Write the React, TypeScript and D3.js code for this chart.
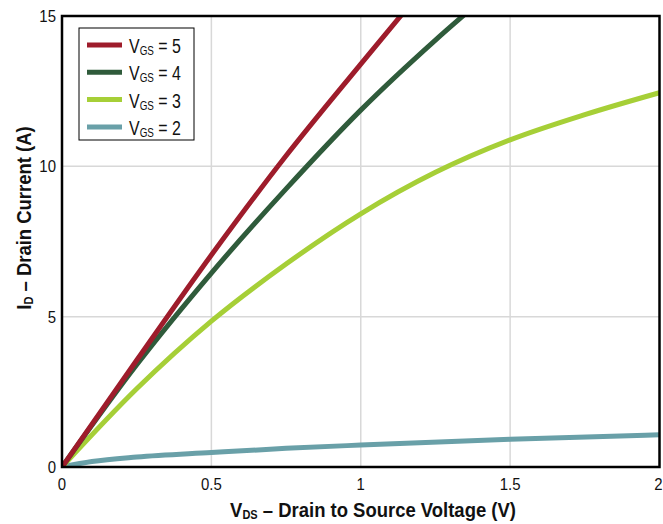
import * as d3 from 'd3';
import type { ReactNode } from 'react';

const gsValues = ['5', '4', '3', '2'];
const colors = ['#9e1c2b', '#2f5b3b', '#a6cf37', '#69a0a8'];

const vgs5 = [
  { v: 0, i: 0 }, { v: 0.25, i: 3.55 }, { v: 0.5, i: 7.05 }, { v: 0.75, i: 10.35 },
  { v: 1.0, i: 13.4 }, { v: 1.2, i: 15.8 },
];
const vgs4 = [
  { v: 0, i: 0 }, { v: 0.25, i: 3.4 }, { v: 0.5, i: 6.45 }, { v: 0.75, i: 9.25 },
  { v: 1.0, i: 11.87 }, { v: 1.25, i: 14.2 }, { v: 1.4, i: 15.5 },
];
const vgs3 = [
  { v: 0, i: 0 }, { v: 0.25, i: 2.6 }, { v: 0.5, i: 4.85 }, { v: 0.75, i: 6.75 },
  { v: 1.0, i: 8.42 }, { v: 1.25, i: 9.8 }, { v: 1.5, i: 10.88 }, { v: 1.75, i: 11.72 },
  { v: 2.0, i: 12.45 },
];
const vgs2 = [
  { v: 0, i: 0 }, { v: 0.1, i: 0.18 }, { v: 0.25, i: 0.33 }, { v: 0.5, i: 0.48 },
  { v: 0.75, i: 0.62 }, { v: 1.0, i: 0.73 }, { v: 1.5, i: 0.92 }, { v: 2.0, i: 1.07 },
];
const curves = [vgs5, vgs4, vgs3, vgs2];

const xTicks = [0, 0.5, 1, 1.5, 2];
const yTicks = [0, 5, 10, 15];

const font = '"Liberation Sans", Arial, sans-serif';

// fake a condensed face by squeezing the text horizontally
function Narrow(props: {
  x: number;
  y: number;
  sx: number;
  rotate?: number;
  anchor?: 'start' | 'middle' | 'end';
  size: number;
  bold?: boolean;
  children: ReactNode;
}) {
  const { x, y, sx, rotate = 0, anchor = 'start', size, bold, children } = props;
  return (
    <g transform={`translate(${x},${y}) rotate(${rotate}) scale(${sx},1)`}>
      <text textAnchor={anchor} fontSize={size} fontWeight={bold ? 'bold' : 'normal'} fill="#111">
        {children}
      </text>
    </g>
  );
}

export default function App() {
  const width = 663;
  const height = 524;
  const plot = { left: 62, right: 659.5, top: 16, bottom: 467 };

  const x = d3.scaleLinear().domain([0, 2]).range([plot.left, plot.right]);
  const y = d3.scaleLinear().domain([0, 15]).range([plot.bottom, plot.top]);

  const line = d3
    .line<{ v: number; i: number }>()
    .x((d) => x(d.v))
    .y((d) => y(d.i))
    .curve(d3.curveMonotoneX);

  return (
    <svg
      width={width}
      height={height}
      style={{ position: 'absolute', left: 0, top: 0, background: '#fff' }}
      fontFamily={font}
    >
      <defs>
        <clipPath id="plot-clip">
          <rect x={plot.left} y={plot.top} width={plot.right - plot.left} height={plot.bottom - plot.top} />
        </clipPath>
      </defs>

      {/* grid */}
      {xTicks.slice(1, -1).map((t) => (
        <line key={`gx${t}`} x1={x(t)} x2={x(t)} y1={plot.top} y2={plot.bottom} stroke="#d8d8d8" strokeWidth={1.5} />
      ))}
      {yTicks.slice(1, -1).map((t) => (
        <line key={`gy${t}`} x1={plot.left} x2={plot.right} y1={y(t)} y2={y(t)} stroke="#d8d8d8" strokeWidth={1.5} />
      ))}

      {/* curves, lowest series first */}
      <g clipPath="url(#plot-clip)">
        {curves
          .map((data, k) => ({ data, k }))
          .reverse()
          .map(({ data, k }) => (
            <path key={gsValues[k]} d={line(data) ?? ''} fill="none" stroke={colors[k]} strokeWidth={5} />
          ))}
      </g>

      {/* frame */}
      <rect
        x={plot.left}
        y={plot.top}
        width={plot.right - plot.left}
        height={plot.bottom - plot.top}
        fill="none"
        stroke="#000"
        strokeWidth={2.5}
      />

      {/* tick labels */}
      {yTicks.map((t) => (
        <Narrow key={`ty${t}`} x={plot.left - 6} y={y(t) + 6} sx={0.88} anchor="end" size={17}>
          {t}
        </Narrow>
      ))}
      {xTicks.map((t) => (
        <Narrow key={`tx${t}`} x={t === 2 ? x(t) - 1 : x(t)} y={plot.bottom + 23} sx={0.88} anchor="middle" size={17}>
          {t}
        </Narrow>
      ))}

      {/* axis titles */}
      <Narrow x={373} y={517} sx={0.88} anchor="middle" size={21} bold>
        V
        <tspan fontSize={12.5} dy={2}>DS</tspan>
        <tspan dy={-2}> – Drain to Source Voltage (V)</tspan>
      </Narrow>
      <Narrow x={31} y={218} sx={0.88} rotate={-90} anchor="middle" size={21} bold>
        I
        <tspan fontSize={12.5} dy={2}>D</tspan>
        <tspan dy={-2}> – Drain Current (A)</tspan>
      </Narrow>

      {/* legend */}
      <g transform="translate(79,28)">
        <rect x={0} y={0} width={115} height={112} fill="#fff" stroke="#000" strokeWidth={1} />
        {gsValues.map((g, k) => (
          <g key={g} transform={`translate(0,${17 + k * 27.3})`}>
            <line x1={8} x2={43} y1={0} y2={0} stroke={colors[k]} strokeWidth={5} />
            <Narrow x={50} y={8} sx={0.76} size={21}>
              V
              <tspan fontSize={13} dy={2}>GS</tspan>
              <tspan dy={-2}> = {g}</tspan>
            </Narrow>
          </g>
        ))}
      </g>
    </svg>
  );
}
